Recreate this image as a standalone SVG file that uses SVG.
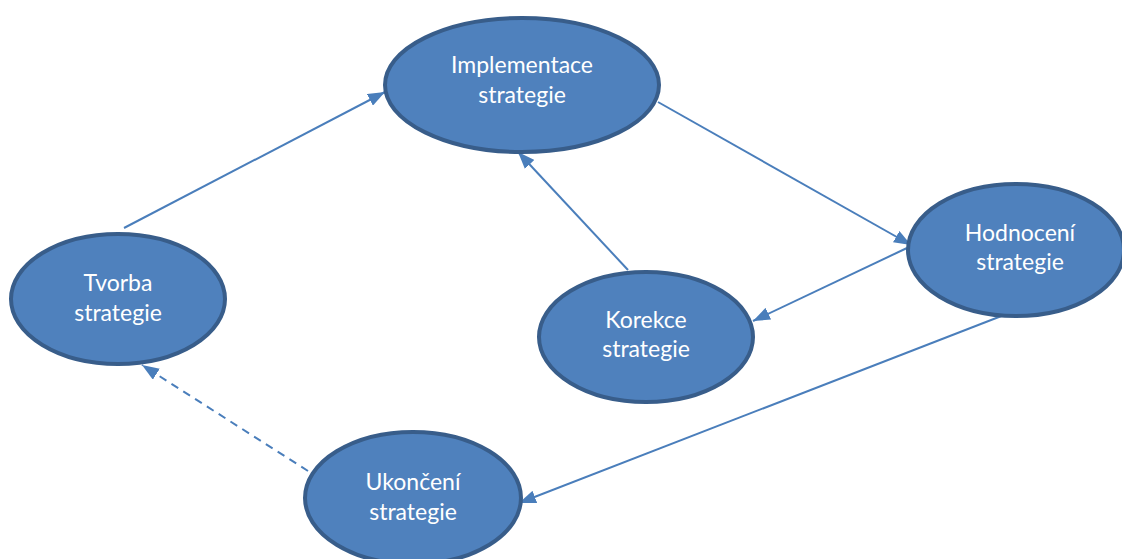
<svg xmlns="http://www.w3.org/2000/svg" width="1122" height="559" viewBox="0 0 1122 559">
<style>
.node ellipse{fill:#4F81BD;stroke:#385D8A;stroke-width:4}
.node text{fill:#fff;font-family:Lato,"Open Sans","Liberation Sans",sans-serif;font-size:23px;text-anchor:middle}
.conn line{stroke:#4A7EBB;stroke-width:2;fill:none}
.dash{stroke-dasharray:8,6}
</style>
<defs>
<marker id="arr" markerUnits="userSpaceOnUse" markerWidth="17" markerHeight="13" refX="17" refY="6.5" orient="auto">
<path d="M0,0 L17,6.5 L0,13 z" fill="#4A7EBB"/>
</marker>
</defs>
<rect width="1122" height="559" fill="#fff"/>
<g id="connectors" class="conn">
<line x1="124" y1="228" x2="385" y2="92" marker-end="url(#arr)"/>
<line x1="658" y1="102" x2="911" y2="245" marker-end="url(#arr)"/>
<line x1="628" y1="270" x2="518" y2="152" marker-end="url(#arr)"/>
<line x1="907" y1="248" x2="753" y2="321" marker-end="url(#arr)"/>
<line x1="1004" y1="315" x2="519" y2="503" marker-end="url(#arr)"/>
<line class="dash" x1="308" y1="471" x2="142" y2="365" marker-end="url(#arr)"/>
</g>
<g id="implementace" class="node">
<ellipse cx="522" cy="85" rx="137" ry="67"/>
<text x="522" y="73">Implementace</text>
<text x="522" y="103">strategie</text>
</g>
<g id="tvorba" class="node">
<ellipse cx="118" cy="299" rx="107" ry="65"/>
<text x="118" y="291">Tvorba</text>
<text x="118" y="321">strategie</text>
</g>
<g id="korekce" class="node">
<ellipse cx="646" cy="337" rx="107" ry="65"/>
<text x="646" y="328">Korekce</text>
<text x="646" y="357">strategie</text>
</g>
<g id="hodnoceni" class="node">
<ellipse cx="1016" cy="250" rx="108" ry="66"/>
<text x="1020" y="241">Hodnocení</text>
<text x="1020" y="270">strategie</text>
</g>
<g id="ukonceni" class="node">
<ellipse cx="413" cy="498" rx="108" ry="66"/>
<text x="413" y="490">Ukončení</text>
<text x="413" y="520">strategie</text>
</g>
</svg>
